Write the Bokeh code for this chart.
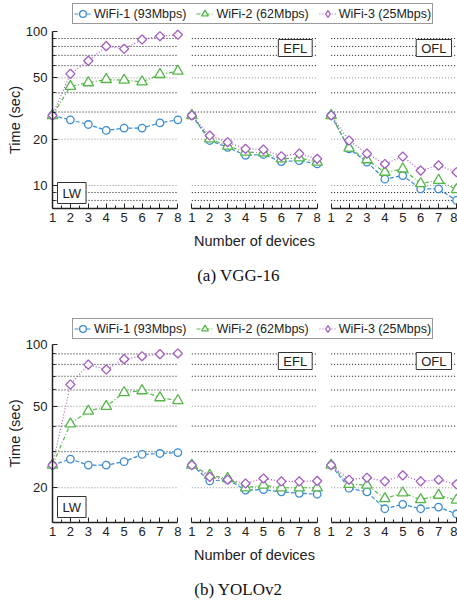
import math
from bokeh.plotting import figure
from bokeh.models import (LinearAxis, FixedTicker, CustomJSTickFormatter, PrintfTickFormatter,
                          Legend, LegendItem, Label)
from bokeh.layouts import column
from bokeh.embed import file_html
from bokeh.resources import INLINE

# ---------------- data ----------------
devices = [1, 2, 3, 4, 5, 6, 7, 8]
panels = ["LW", "EFL", "OFL"]
series_labels = ["WiFi-1 (93Mbps)", "WiFi-2 (62Mbps)", "WiFi-3 (25Mbps)"]

# VGG-16
vgg_lw_wifi1 = [28.5, 26.7, 24.9, 22.8, 23.6, 23.6, 25.5, 26.7]
vgg_lw_wifi2 = [28.5, 44.0, 46.5, 48.8, 48.3, 47.1, 52.6, 55.3]
vgg_lw_wifi3 = [28.5, 53.1, 64.5, 80.3, 77.2, 88.7, 93.2, 95.2]
vgg_efl_wifi1 = [28.5, 19.6, 17.7, 15.7, 15.9, 14.3, 14.5, 13.8]
vgg_efl_wifi2 = [28.5, 20.1, 18.0, 16.5, 16.3, 14.9, 15.1, 14.2]
vgg_efl_wifi3 = [28.5, 21.1, 19.1, 17.3, 17.1, 15.5, 16.1, 14.9]
vgg_ofl_wifi1 = [28.5, 17.3, 14.2, 11.0, 11.6, 9.5, 9.5, 8.0]
vgg_ofl_wifi2 = [28.5, 17.5, 14.7, 12.2, 12.8, 10.3, 10.8, 9.4]
vgg_ofl_wifi3 = [28.5, 19.6, 16.1, 13.8, 15.4, 12.5, 13.5, 12.2]

# YOLOv2
yolo_lw_wifi1 = [25.8, 27.6, 25.8, 25.8, 26.8, 29.1, 29.4, 29.7]
yolo_lw_wifi2 = [25.8, 41.0, 47.3, 49.9, 58.3, 59.5, 55.0, 53.3]
yolo_lw_wifi3 = [25.8, 63.8, 79.8, 75.5, 84.8, 87.7, 89.7, 90.4]
yolo_efl_wifi1 = [25.8, 21.6, 21.9, 19.5, 19.6, 19.1, 18.8, 18.6]
yolo_efl_wifi2 = [25.8, 23.0, 22.2, 20.0, 20.6, 20.0, 20.0, 20.0]
yolo_efl_wifi3 = [25.8, 22.6, 21.9, 21.0, 22.2, 21.5, 21.5, 21.6]
yolo_ofl_wifi1 = [25.8, 19.9, 19.1, 15.8, 16.6, 15.8, 16.1, 14.9]
yolo_ofl_wifi2 = [25.8, 20.8, 20.6, 17.7, 18.9, 17.5, 18.4, 17.4]
yolo_ofl_wifi3 = [25.8, 21.9, 22.4, 21.5, 23.0, 21.5, 21.9, 20.8]

vgg_data = [[vgg_lw_wifi1, vgg_lw_wifi2, vgg_lw_wifi3],
            [vgg_efl_wifi1, vgg_efl_wifi2, vgg_efl_wifi3],
            [vgg_ofl_wifi1, vgg_ofl_wifi2, vgg_ofl_wifi3]]
yolo_data = [[yolo_lw_wifi1, yolo_lw_wifi2, yolo_lw_wifi3],
             [yolo_efl_wifi1, yolo_efl_wifi2, yolo_efl_wifi3],
             [yolo_ofl_wifi1, yolo_ofl_wifi2, yolo_ofl_wifi3]]

vgg_major_ticks = [10, 20, 50, 100]
vgg_grid = [8, 9, 10, 20, 30, 40, 50, 60, 70, 80, 90]
yolo_major_ticks = [20, 50, 100]
yolo_grid = [20, 30, 40, 50, 60, 70, 80, 90]

# ---------------- style ----------------
SANS = "Liberation Sans"
SERIF = "Liberation Serif"
INK = "#222222"
colors = ["#3a8cd0", "#56b649", "#a35dc0"]
dashes = ["4 2", "4 2 1 2", "1 2"]
markers = ["circle", "triangle", "square"]
legend_markers = ["circle", "triangle", "diamond"]
msizes = [7.5, 10.5, 6.5]
mangles = [0, 0, 0.7853981634]
OFF = 7.78          # panel offset along the shared x coordinate
Y_TOP = 100
FIG_W = 457
AX_LEFT_PX = 52     # where the first panel starts
AX_RIGHT_PX = 456   # where the last panel ends


def make_chart(data, y_base, major_ticks, grid_vals, caption,
               height, legend_top, axis_top, frame_h):
    # The frame spans the whole figure; the axes are pinned inside it.
    x_first = devices[0]
    x_last = devices[-1] + 2 * OFF
    ppx = (AX_RIGHT_PX - AX_LEFT_PX) / (x_last - x_first)
    x_lo = x_first - AX_LEFT_PX / ppx
    x_hi = x_last + (FIG_W - AX_RIGHT_PX) / ppx
    ppd = frame_h / (math.log10(Y_TOP) - math.log10(y_base))
    below = height - axis_top - frame_h
    y_lo = 10 ** (math.log10(y_base) - below / ppd)
    y_hi = 10 ** (math.log10(Y_TOP) + axis_top / ppd)

    p = figure(width=FIG_W, height=height, output_backend="svg", toolbar_location=None,
               y_axis_type="log", x_range=(x_lo, x_hi), y_range=(y_lo, y_hi),
               x_axis_location=None,
               min_border_left=0, min_border_right=0, min_border_top=0, min_border_bottom=0)
    p.title.visible = False
    p.outline_line_color = None
    p.xgrid.visible = False
    p.ygrid.visible = False

    # grid lines per panel
    gx0, gx1, gy, gc = [], [], [], []
    for k in range(3):
        for g in grid_vals:
            gx0.append(devices[0] + k * OFF)
            gx1.append(devices[-1] + k * OFF)
            gy.append(g)
            gc.append("#8a8a8a" if g in major_ticks else "#111111")
    p.segment(x0=gx0, x1=gx1, y0=gy, y1=gy, line_color=gc, line_width=1, line_dash="1 2")

    # y axis pinned at x = 1
    ya = p.yaxis[0]
    ya.fixed_location = devices[0]
    ya.ticker = FixedTicker(ticks=major_ticks, minor_ticks=grid_vals)
    ya.formatter = PrintfTickFormatter(format="%d")
    ya.bounds = (y_base, Y_TOP)
    ya.axis_label = "Time (sec)"
    ya.axis_label_text_font = SANS
    ya.axis_label_text_font_size = "14.5px"
    ya.axis_label_text_font_style = "normal"
    ya.axis_label_text_color = INK
    ya.axis_label_standoff = 0
    ya.major_label_text_font = SANS
    ya.major_label_text_font_size = "13px"
    ya.major_label_text_color = INK
    ya.major_label_standoff = 5
    ya.axis_line_width = 1.5
    ya.axis_line_color = INK
    ya.major_tick_in = 5
    ya.major_tick_out = 0
    ya.minor_tick_in = 3
    ya.minor_tick_out = 0
    ya.major_tick_line_color = INK
    ya.minor_tick_line_color = INK

    # tick labels + axis title for all panels, drawn at the baseline
    all_ticks = [d + k * OFF for k in range(3) for d in devices]
    main_ax = LinearAxis(
        ticker=FixedTicker(ticks=all_ticks, minor_ticks=[]),
        formatter=CustomJSTickFormatter(
            args=dict(off=OFF),
            code="const k = Math.floor((tick - 0.5)/off); return String(Math.round(tick - k*off));"),
        fixed_location=y_base,
        bounds=(x_first, x_last),
        axis_line_color=None, major_tick_line_color=None, minor_tick_line_color=None,
        major_tick_in=0, major_tick_out=0, minor_tick_in=0, minor_tick_out=0,
        major_label_text_font=SANS, major_label_text_font_size="13px",
        major_label_text_color=INK, major_label_standoff=4,
        axis_label="Number of devices", axis_label_text_font=SANS,
        axis_label_text_font_size="14.5px", axis_label_text_font_style="normal",
        axis_label_text_color=INK, axis_label_standoff=8,
    )
    p.add_layout(main_ax, "below")

    # one axis line with ticks per panel
    for k in range(3):
        ax = LinearAxis(
            ticker=FixedTicker(ticks=[d + k * OFF for d in devices],
                               minor_ticks=[d + 0.5 + k * OFF for d in devices[:-1]]),
            formatter=CustomJSTickFormatter(code="return ''"),
            bounds=(devices[0] + k * OFF, devices[-1] + k * OFF),
            fixed_location=y_base,
            axis_line_width=1.5, axis_line_color=INK,
            major_tick_in=5, major_tick_out=0, minor_tick_in=3, minor_tick_out=0,
            major_tick_line_color=INK, minor_tick_line_color=INK,
        )
        p.add_layout(ax, "below")

    # series
    legend_refs = [[], [], []]
    for k in range(3):
        xs = [d + k * OFF for d in devices]
        for s in range(3):
            rl = p.line(xs, data[k][s], line_color=colors[s], line_width=1.2, line_dash=dashes[s])
            rs = p.scatter(xs, data[k][s], marker=markers[s], size=msizes[s], angle=mangles[s],
                           line_color=colors[s], fill_color="white", line_width=1.3)
            if k == 0:
                legend_refs[s] = [rl, rs]
    # legend swatch for the diamond (a rotated square is not rotated in legends)
    sw = p.scatter([float("nan")], [float("nan")], marker=legend_markers[2], size=10,
                   line_color=colors[2], fill_color="white", line_width=1.3)
    legend_refs[2] = [legend_refs[2][0], sw]

    items = [LegendItem(label=series_labels[s], renderers=legend_refs[s]) for s in range(3)]
    legend = Legend(items=items, orientation="horizontal",
                    location=(72, height - legend_top - 19),
                    label_text_font=SANS, label_text_font_size="12.5px", label_text_color=INK,
                    glyph_width=17, glyph_height=17, label_height=17, label_standoff=3,
                    spacing=10, padding=1, margin=0,
                    border_line_color="#333333", border_line_width=1,
                    background_fill_color="white", background_fill_alpha=1)
    p.add_layout(legend)

    # panel tags
    for k, name in enumerate(panels):
        if name == "LW":
            lab = Label(x=devices[0] + k * OFF, y=below + 5, x_units="data", y_units="screen",
                        x_offset=5, text=name, text_align="left", text_baseline="bottom",
                        padding=(5, 3), text_font=SANS, text_font_size="13px",
                        text_color=INK, border_line_color="#333333", border_line_width=1,
                        background_fill_color="white")
        else:
            lab = Label(x=devices[-1] + k * OFF, y=height - axis_top - 8, x_units="data",
                        y_units="screen", x_offset=-5, text=name, text_align="right",
                        text_baseline="top", padding=(5, 1), text_font=SANS,
                        text_font_size="13px", text_color=INK, border_line_color="#333333",
                        border_line_width=1, background_fill_color="white")
        p.add_layout(lab)

    cap = Label(x=238, y=below - 67, x_units="screen", y_units="screen", text=caption,
                text_align="center", text_baseline="middle", text_font=SERIF,
                text_font_size="17px", text_color="#111111")
    p.add_layout(cap)
    return p


pA = make_chart(vgg_data, 7.09, vgg_major_ticks, vgg_grid, "(a) VGG-16", 315, 5, 31, 177)
pB = make_chart(yolo_data, 13.54, yolo_major_ticks, yolo_grid, "(b) YOLOv2", 288, 5, 29, 178)

layout = column(pA, pB)
open("out.html", "w").write(file_html(layout, INLINE))
